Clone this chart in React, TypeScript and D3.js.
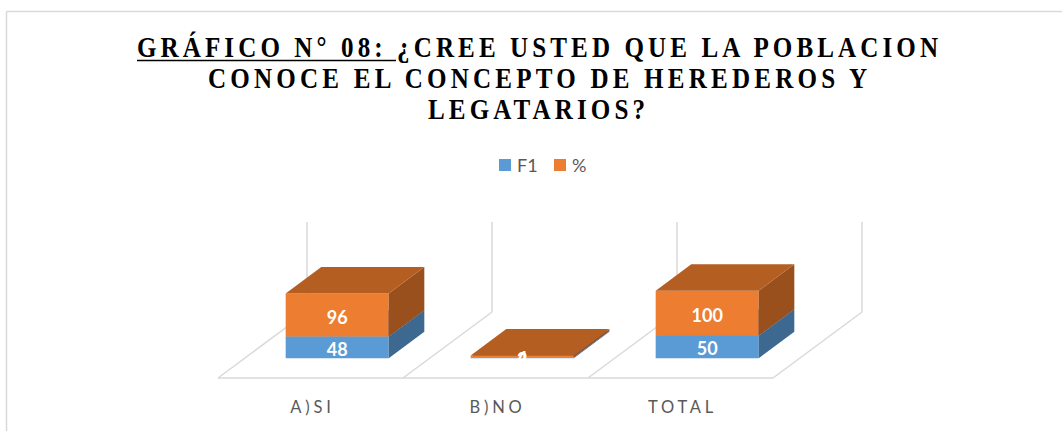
import React from "react";
import * as d3 from "d3";

const categories = ["A)SI", "B)NO", "TOTAL"];
const seriesNames = ["F1", "%"];
const f1Values = [48, 2, 50];
const pctValues = [96, 4, 100];
const valueMax = 200;

const titleLines = [
  "GRÁFICO N° 08: ¿CREE USTED QUE LA POBLACION",
  "CONOCE EL CONCEPTO DE HEREDEROS Y",
  "LEGATARIOS?",
];

const W = 1062;
const H = 431;

// layout
const floorFrontY = 378;
const depthDX = 89;
const depthDY = -66;
const barFrontDepth = 0.3;
const barBackDepth = 0.7;
const barFrac = 0.557;

const colors = {
  blueFront: "#5B9BD5",
  blueSide: "#3D6890",
  blueTop: "#4A80B4",
  orangeFront: "#ED7D31",
  orangeSide: "#9A501D",
  orangeTop: "#B55E22",
  grid: "#D9D9D9",
  text: "#595959",
};

export default function App() {
  const x = d3.scaleBand<string>().domain(categories).range([218, 773]).paddingInner(0).paddingOuter(0);
  const h = d3.scaleLinear().domain([0, valueMax]).range([0, 90]);
  const bw = x.bandwidth();
  const barW = bw * barFrac;

  const pt = (xf: number, depth: number, v: number): [number, number] => [
    xf + depth * depthDX,
    floorFrontY + depth * depthDY - h(v),
  ];
  const poly = (pts: [number, number][]) => pts.map((p) => p.join(",")).join(" ");

  const boundaries = [...categories.map((c) => x(c) as number), (x(categories[categories.length - 1]) as number) + bw];

  const stacks = categories.map((c, i) => [
    { v0: 0, v1: f1Values[i], val: f1Values[i], front: colors.blueFront, side: colors.blueSide, top: colors.blueTop },
    {
      v0: f1Values[i],
      v1: f1Values[i] + pctValues[i],
      val: pctValues[i],
      front: colors.orangeFront,
      side: colors.orangeSide,
      top: colors.orangeTop,
    },
  ]);

  const sx = 0.88;
  const titleGeom = [
    { x0: 137, x1: 938, y: 57 },
    { x0: 208, x1: 867, y: 88 },
    { x0: 428, x1: 645, y: 119 },
  ];

  return (
    <svg
      width={W}
      height={H}
      style={{ position: "absolute", left: 0, top: 0, background: "#fff" }}
      xmlns="http://www.w3.org/2000/svg"
    >
      {/* chart border (cropped) */}
      <line x1={6.5} y1={11.5} x2={W} y2={11.5} stroke={colors.grid} strokeWidth={1.5} />
      <line x1={6.5} y1={11.5} x2={6.5} y2={H} stroke={colors.grid} strokeWidth={1.5} />

      {/* title */}
      {titleLines.map((t, i) => (
        <text
          key={i}
          transform={`scale(${sx},1)`}
          x={titleGeom[i].x0 / sx}
          y={titleGeom[i].y}
          textLength={(titleGeom[i].x1 - titleGeom[i].x0) / sx}
          lengthAdjust="spacing"
          fontFamily="'Liberation Serif', 'Times New Roman', serif"
          fontWeight="bold"
          fontSize={28.5}
          fill="#000"
        >
          {t}
        </text>
      ))}
      <line x1={137} y1={60.5} x2={396} y2={60.5} stroke="#000" strokeWidth={1.6} />

      {/* legend */}
      {seriesNames.map((s, i) => {
        const lx = i === 0 ? 499 : 554;
        return (
          <g key={s}>
            <rect x={lx} y={159} width={12} height={12} fill={i === 0 ? colors.blueFront : colors.orangeFront} />
            <text x={lx + 18} y={172} fontFamily="Lato, 'Open Sans', sans-serif" fontSize={18} fill={colors.text}>
              {s}
            </text>
          </g>
        );
      })}

      {/* walls and floor */}
      {boundaries.map((b, i) => {
        const [bx, by] = pt(b, 1, 0);
        const [, ty] = pt(b, 1, valueMax);
        const [fx, fy] = pt(b, 0, 0);
        return (
          <g key={i}>
            <line x1={bx} y1={by} x2={bx} y2={ty} stroke={colors.grid} strokeWidth={1.5} />
            <line x1={fx} y1={fy} x2={bx} y2={by} stroke={colors.grid} strokeWidth={1.5} />
          </g>
        );
      })}
      <line
        x1={boundaries[0]}
        y1={floorFrontY}
        x2={boundaries[boundaries.length - 1]}
        y2={floorFrontY}
        stroke={colors.grid}
        strokeWidth={1.5}
      />

      {/* bars */}
      {categories.map((c, i) => {
        const x0 = (x(c) as number) + (bw - barW) / 2;
        const x1 = x0 + barW;
        const d0 = barFrontDepth;
        const d1 = barBackDepth;
        return (
          <g key={c}>
            {stacks[i].map((s, j) => (
              <g key={j}>
                <polygon points={poly([pt(x0, d0, s.v0), pt(x1, d0, s.v0), pt(x1, d0, s.v1), pt(x0, d0, s.v1)])} fill={s.front} />
                <polygon points={poly([pt(x1, d0, s.v0), pt(x1, d1, s.v0), pt(x1, d1, s.v1), pt(x1, d0, s.v1)])} fill={s.side} />
                <polygon points={poly([pt(x0, d0, s.v1), pt(x1, d0, s.v1), pt(x1, d1, s.v1), pt(x0, d1, s.v1)])} fill={s.top} />
              </g>
            ))}
          </g>
        );
      })}

      {/* data labels */}
      {categories.map((c, i) => {
        const x0 = (x(c) as number) + (bw - barW) / 2;
        const cx = x0 + barW / 2 + barFrontDepth * depthDX;
        return stacks[i].map((s, j) => {
          const [, ya] = pt(x0, barFrontDepth, s.v0);
          const [, yb] = pt(x0, barFrontDepth, s.v1);
          return (
            <text
              key={`${c}-${j}`}
              x={cx}
              y={(ya + yb) / 2 + 1.5}
              textAnchor="middle"
              dominantBaseline="central"
              fontFamily="Lato, 'Open Sans', sans-serif"
              fontWeight="bold"
              fontSize={18}
              fill="#fff"
            >
              {s.val}
            </text>
          );
        });
      })}

      {/* category labels */}
      {categories.map((c) => (
        <text
          key={c}
          x={(x(c) as number) + bw / 2 + 2}
          y={413}
          textAnchor="middle"
          fontFamily="Lato, 'Open Sans', sans-serif"
          fontSize={16.5}
          letterSpacing={3.8}
          fill={colors.text}
        >
          {c}
        </text>
      ))}
    </svg>
  );
}
